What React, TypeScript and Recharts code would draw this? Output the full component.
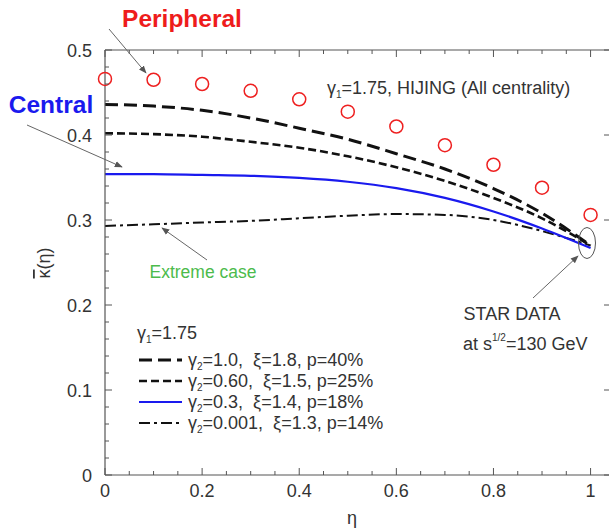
import { ComposedChart, Line, XAxis, YAxis } from "recharts";

// eta grid and curves
const eta = [0, 0.1, 0.2, 0.3, 0.4, 0.5, 0.6, 0.7, 0.8, 0.9, 1.0];
const p40 = [0.436, 0.434, 0.429, 0.42, 0.408, 0.395, 0.378, 0.36, 0.337, 0.308, 0.27];
const p25 = [0.402, 0.401, 0.398, 0.392, 0.385, 0.375, 0.362, 0.346, 0.326, 0.302, 0.27];
const p18 = [0.354, 0.354, 0.353, 0.352, 0.3495, 0.345, 0.3375, 0.326, 0.31, 0.29, 0.267];
const p14 = [0.293, 0.295, 0.297, 0.299, 0.302, 0.305, 0.307, 0.306, 0.3, 0.287, 0.27];
const hijing = [0.466, 0.465, 0.46, 0.452, 0.442, 0.4275, 0.41, 0.388, 0.365, 0.338, 0.306];

const xTicks = [0, 0.05, 0.1, 0.15, 0.2, 0.25, 0.3, 0.35, 0.4, 0.45, 0.5, 0.55, 0.6, 0.65, 0.7, 0.75, 0.8, 0.85, 0.9, 0.95, 1.0];
const yTicksLeft = [0, 0.02, 0.04, 0.06, 0.08, 0.1, 0.12, 0.14, 0.16, 0.18, 0.2, 0.22, 0.24, 0.26, 0.28, 0.3, 0.32, 0.34, 0.36, 0.38, 0.4, 0.42, 0.44, 0.46, 0.48, 0.5];
const yTicksRight = [0, 0.1, 0.2, 0.3, 0.4, 0.5];

const legendRows = [
  { g2: "1.0,", xi: "1.8", p: "40%", dash: "13 6", color: "#111", w: 3 },
  { g2: "0.60,", xi: "1.5", p: "25%", dash: "8 4", color: "#111", w: 2.6 },
  { g2: "0.3,", xi: "1.4", p: "18%", dash: undefined, color: "#1a1aee", w: 2.2 },
  { g2: "0.001,", xi: "1.3", p: "14%", dash: "11 4 3 4", color: "#111", w: 2 },
];

const data = eta.map((e, i) => ({
  eta: e,
  p40: p40[i],
  p25: p25[i],
  p18: p18[i],
  p14: p14[i],
  hijing: hijing[i],
}));

const font = "'Liberation Sans', Arial, Helvetica, sans-serif";
const axisColor = "#555";
const textColor = "#333";

const isMajor = (v: number, step: number) => Math.abs(v / step - Math.round(v / step)) < 1e-6;
const fmt = (v: number) => (isMajor(v, 1) ? String(Math.round(v)) : v.toFixed(1));

function BottomTick({ x, y, payload }: any) {
  const v = payload.value;
  const major = isMajor(v, 0.2);
  return (
    <g>
      <line x1={x} x2={x} y1={y} y2={y - (major ? 7 : 4)} stroke={axisColor} />
      {major && (
        <text x={x} y={y + 22} textAnchor="middle" fontSize={18} fill={textColor} fontFamily={font}>
          {fmt(v)}
        </text>
      )}
    </g>
  );
}

function TopTick({ x, y, payload }: any) {
  const major = isMajor(payload.value, 0.2);
  return <line x1={x} x2={x} y1={y} y2={y + (major ? 7 : 4)} stroke={axisColor} />;
}

function LeftTick({ x, y, payload }: any) {
  const v = payload.value;
  const major = isMajor(v, 0.1);
  return (
    <g>
      <line x1={x} x2={x + (major ? 7 : 4)} y1={y} y2={y} stroke={axisColor} />
      {major && (
        <text x={x - 13} y={y + 6.5} textAnchor="end" fontSize={18} fill={textColor} fontFamily={font}>
          {fmt(v)}
        </text>
      )}
    </g>
  );
}

function RightTick({ x, y }: any) {
  return <line x1={x} x2={x - 6} y1={y} y2={y} stroke={axisColor} />;
}

function Annotations() {
  const sub = { fontSize: 10 };
  return (
    <svg
      width={609}
      height={529}
      style={{ position: "absolute", left: 0, top: 0, pointerEvents: "none" }}
      fontFamily={font}
    >
      <defs>
        <marker id="arr" viewBox="0 0 10 10" refX="9" refY="5" markerWidth="8" markerHeight="8" orient="auto">
          <path d="M0,1 L10,5 L0,9 z" fill="#555" />
        </marker>
      </defs>

      <text x={182} y={27} textAnchor="middle" fontSize={24.5} fontWeight="bold" fill="#ee1c1c">
        Peripheral
      </text>
      <line x1={109} y1={29} x2={146} y2={73} stroke="#666" strokeWidth={1} markerEnd="url(#arr)" />

      <text x={51} y={113} textAnchor="middle" fontSize={24.5} fontWeight="bold" fill="#1a1aee">
        Central
      </text>
      <line x1={27} y1={125} x2={122} y2={167} stroke="#666" strokeWidth={1} markerEnd="url(#arr)" />

      <text x={327} y={94} fontSize={18} fill={textColor}>
        γ<tspan dy={4} {...sub}>1</tspan>
        <tspan dy={-4}>=1.75, HIJING (All centrality)</tspan>
      </text>

      <text x={203} y={278} textAnchor="middle" fontSize={17.5} fill="#4cbb4c">
        Extreme case
      </text>
      <line x1={207} y1={260} x2={162} y2={228} stroke="#666" strokeWidth={1} markerEnd="url(#arr)" />

      <ellipse cx={587} cy={243} rx={8.5} ry={15.5} fill="none" stroke="#555" strokeWidth={1} />
      <line x1={533} y1={298} x2={578} y2={256} stroke="#666" strokeWidth={1} markerEnd="url(#arr)" />
      <text x={512} y={320} textAnchor="middle" fontSize={18} fill={textColor}>
        STAR DATA
      </text>
      <text x={463} y={350} fontSize={18} fill={textColor}>
        at s<tspan dy={-9} fontSize={10}>1/2</tspan>
        <tspan dy={9}>=130 GeV</tspan>
      </text>

      <text x={137} y={339} fontSize={18} fill={textColor}>
        γ<tspan dy={4} {...sub}>1</tspan>
        <tspan dy={-4}>=1.75</tspan>
      </text>
      {legendRows.map((r, i) => {
        const cy = 360 + i * 21;
        return (
          <g key={i}>
            <line x1={139} x2={182} y1={cy} y2={cy} stroke={r.color} strokeWidth={r.w} strokeDasharray={r.dash} />
            <text x={188} y={cy + 6} fontSize={18} fill={textColor} style={{ whiteSpace: "pre" }}>
              γ<tspan dy={4} {...sub}>2</tspan>
              <tspan dy={-4}>{`=${r.g2}  ξ=${r.xi}, p=${r.p}`}</tspan>
            </text>
          </g>
        );
      })}

      <text x={352} y={524} textAnchor="middle" fontSize={18} fill={textColor}>
        η
      </text>
      <text x={50} y={263} textAnchor="middle" fontSize={18} fill={textColor} transform="rotate(-90 50 263)">
        <tspan textDecoration="overline" style={{ textDecoration: "overline" }}>κ</tspan>(η)
      </text>
    </svg>
  );
}

export default function App() {
  return (
    <div style={{ position: "absolute", left: 0, top: 0, width: 609, height: 529, overflow: "hidden", background: "#fff" }}>
      <ComposedChart width={620} height={529} data={data} margin={{ top: 49, right: 0, bottom: 0, left: 0 }}>
        <XAxis
          dataKey="eta"
          type="number"
          domain={[0, 1.04]}
          ticks={xTicks}
          interval={0}
          height={54}
          tickSize={0}
          tickMargin={0}
          tickLine={false}
          axisLine={{ stroke: axisColor, strokeWidth: 1.2 }}
          tick={<BottomTick />}
        />
        <XAxis
          xAxisId="top"
          dataKey="eta"
          type="number"
          orientation="top"
          domain={[0, 1.04]}
          ticks={xTicks}
          interval={0}
          height={1}
          tickSize={0}
          tickMargin={0}
          tickLine={false}
          axisLine={{ stroke: axisColor, strokeWidth: 1.2 }}
          tick={<TopTick />}
        />
        <YAxis
          type="number"
          domain={[0, 0.5]}
          ticks={yTicksLeft}
          interval={0}
          width={105}
          tickSize={0}
          tickMargin={0}
          tickLine={false}
          axisLine={{ stroke: axisColor, strokeWidth: 1.2 }}
          tick={<LeftTick />}
        />
        <YAxis
          yAxisId="right"
          orientation="right"
          type="number"
          domain={[0, 0.5]}
          ticks={yTicksRight}
          interval={0}
          width={10}
          tickSize={0}
          tickMargin={0}
          tickLine={false}
          axisLine={{ stroke: axisColor, strokeWidth: 1.2 }}
          tick={<RightTick />}
        />
        <Line dataKey="p40" type="monotone" stroke="#111" strokeWidth={3} strokeDasharray="13 6" dot={false} activeDot={false} isAnimationActive={false} />
        <Line dataKey="p25" type="monotone" stroke="#111" strokeWidth={2.6} strokeDasharray="8 4" dot={false} activeDot={false} isAnimationActive={false} />
        <Line dataKey="p14" type="monotone" stroke="#111" strokeWidth={2} strokeDasharray="11 4 3 4" dot={false} activeDot={false} isAnimationActive={false} />
        <Line dataKey="p18" type="monotone" stroke="#1a1aee" strokeWidth={2.2} dot={false} activeDot={false} isAnimationActive={false} />
        <Line
          dataKey="hijing"
          xAxisId="top"
          yAxisId="right"
          stroke="none"
          dot={{ r: 6.5, stroke: "#ee2020", strokeWidth: 1.5, fill: "none" }}
          activeDot={false}
          isAnimationActive={false}
        />
      </ComposedChart>
      <Annotations />
    </div>
  );
}
